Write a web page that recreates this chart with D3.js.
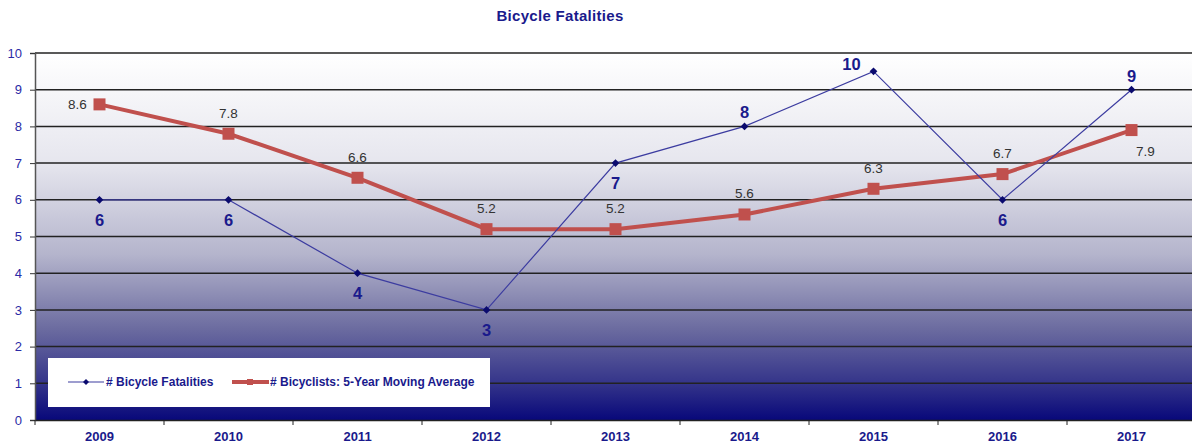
<!DOCTYPE html>
<html>
<head>
<meta charset="utf-8">
<script src="https://cdn.jsdelivr.net/npm/d3@7"></script>
<style>
  body { margin: 0; background: #fff; }
  text { font-family: "Liberation Sans", Arial, sans-serif; }
</style>
</head>
<body>
<div id="chart"></div>
<script>
// Chart data
const years = ["2009", "2010", "2011", "2012", "2013", "2014", "2015", "2016", "2017"];
const fatalities = [6, 6, 4, 3, 7, 8, 9.5, 6, 9];
const movingAvg = [8.6, 7.8, 6.6, 5.2, 5.2, 5.6, 6.3, 6.7, 7.9];
const yTicks = [0, 1, 2, 3, 4, 5, 6, 7, 8, 9, 10];
// where each label sits relative to its point
const fatalLabelPos = ["below", "below", "below", "below", "below", "above", "aboveLeft", "below", "above"];
const avgLabelPos = ["left", "above", "above", "above", "above", "above", "above", "above", "below"];

const svgWidth = 1192;
const svgHeight = 446;
const margin = {top: 53, right: -4, bottom: 26, left: 35};
const width = svgWidth - margin.left - margin.right;
const height = svgHeight - margin.top - margin.bottom;

const navy = "#1a1a8c";
const red = "#c0504d";

const svg = d3.select("#chart")
  .append("svg")
  .attr("width", svgWidth)
  .attr("height", svgHeight);

// Background gradient
const grad = svg.append("defs").append("linearGradient")
  .attr("id", "bg")
  .attr("x1", 0).attr("y1", 0).attr("x2", 0).attr("y2", 1);
[[0, "#ffffff"], [0.3, "#e6e6ee"], [0.55, "#b4b4cc"], [0.75, "#6c6ca0"], [0.9, "#34348a"], [1, "#08087a"]]
  .forEach(s => grad.append("stop").attr("offset", s[0]).attr("stop-color", s[1]));

// Title
svg.append("text")
  .attr("x", 560)
  .attr("y", 21)
  .attr("text-anchor", "middle")
  .attr("font-size", "15px")
  .attr("font-weight", "bold")
  .attr("letter-spacing", "0.3px")
  .attr("fill", navy)
  .text("Bicycle Fatalities");

const chartGroup = svg.append("g")
  .attr("transform", `translate(${margin.left}, ${margin.top})`);

// Scales
const xBand = d3.scaleBand().domain(years).range([0, width]);
const x = d => xBand(d) + xBand.bandwidth() / 2;
const y = d3.scaleLinear().domain([0, 10]).range([height, 0]);

chartGroup.append("rect")
  .attr("width", width)
  .attr("height", height)
  .attr("fill", "url(#bg)");

// Gridlines
chartGroup.append("g")
  .selectAll("line")
  .data(yTicks.slice(1))
  .enter()
  .append("line")
  .attr("x1", 0)
  .attr("x2", width)
  .attr("y1", d => y(d))
  .attr("y2", d => y(d))
  .attr("stroke", "#222")
  .attr("stroke-width", 1.5);

// Axes
const yAxis = chartGroup.append("g")
  .call(d3.axisLeft(y).tickValues(yTicks).tickSize(5).tickPadding(8));
yAxis.select(".domain").attr("stroke", "#555").attr("stroke-width", 1.5);
yAxis.selectAll(".tick line").attr("stroke", "#333");
yAxis.selectAll("text")
  .attr("font-size", "13px")
  .attr("fill", "#2b2ba6");

const xAxis = chartGroup.append("g")
  .attr("transform", `translate(0, ${height})`)
  .call(d3.axisBottom(xBand).tickSize(0).tickPadding(12));
xAxis.select(".domain").attr("stroke", "#222").attr("stroke-width", 1.5);
xAxis.selectAll("text")
  .attr("font-size", "13px")
  .attr("font-weight", "bold")
  .attr("fill", navy);
// tick marks on band edges
xAxis.append("g")
  .selectAll("line")
  .data(years)
  .enter()
  .append("line")
  .attr("x1", d => xBand(d))
  .attr("x2", d => xBand(d))
  .attr("y1", 0)
  .attr("y2", 5)
  .attr("stroke", "#222");

// Moving average line
const avgLine = d3.line().x((d, i) => x(years[i])).y(d => y(d));
chartGroup.append("path")
  .datum(movingAvg)
  .attr("d", avgLine)
  .attr("fill", "none")
  .attr("stroke", red)
  .attr("stroke-width", 4);

// Fatalities line
const fatalLine = d3.line().x((d, i) => x(years[i])).y(d => y(d));
chartGroup.append("path")
  .datum(fatalities)
  .attr("d", fatalLine)
  .attr("fill", "none")
  .attr("stroke", "#3c3ca0")
  .attr("stroke-width", 1.2);

// Markers
chartGroup.selectAll("rect.avg")
  .data(movingAvg)
  .enter()
  .append("rect")
  .attr("class", "avg")
  .attr("x", (d, i) => x(years[i]) - 6)
  .attr("y", d => y(d) - 6)
  .attr("width", 12)
  .attr("height", 12)
  .attr("fill", red);

chartGroup.selectAll("path.fatal")
  .data(fatalities)
  .enter()
  .append("path")
  .attr("class", "fatal")
  .attr("d", d3.symbol().type(d3.symbolSquare).size(30))
  .attr("transform", (d, i) => `translate(${x(years[i])}, ${y(d)}) rotate(45)`)
  .attr("fill", "#0a0a6e");

// Labels
const avgOffset = {left: [-22, 5], above: [0, -16], below: [14, 26]};
chartGroup.selectAll("text.avgLabel")
  .data(movingAvg)
  .enter()
  .append("text")
  .attr("class", "avgLabel")
  .attr("x", (d, i) => x(years[i]) + avgOffset[avgLabelPos[i]][0])
  .attr("y", (d, i) => y(d) + avgOffset[avgLabelPos[i]][1])
  .attr("text-anchor", "middle")
  .attr("font-size", "13.5px")
  .attr("fill", "#333")
  .text(d => d3.format(".1f")(d));

const fatalOffset = {below: [0, 26], above: [0, -8], aboveLeft: [-22, -1]};
chartGroup.selectAll("text.fatalLabel")
  .data(fatalities)
  .enter()
  .append("text")
  .attr("class", "fatalLabel")
  .attr("x", (d, i) => x(years[i]) + fatalOffset[fatalLabelPos[i]][0])
  .attr("y", (d, i) => y(d) + fatalOffset[fatalLabelPos[i]][1])
  .attr("text-anchor", "middle")
  .attr("font-size", "16.5px")
  .attr("font-weight", "bold")
  .attr("fill", navy)
  .text(d => d3.format(".0f")(d));

// Legend
const legend = svg.append("g").attr("transform", "translate(48, 358)");
legend.append("rect")
  .attr("width", 442)
  .attr("height", 49)
  .attr("fill", "#fff");
legend.append("line")
  .attr("x1", 20).attr("x2", 56).attr("y1", 24).attr("y2", 24)
  .attr("stroke", "#3c3ca0").attr("stroke-width", 1.2);
legend.append("path")
  .attr("d", d3.symbol().type(d3.symbolSquare).size(18))
  .attr("transform", "translate(38, 24) rotate(45)")
  .attr("fill", "#0a0a6e");
legend.append("text")
  .attr("x", 58).attr("y", 28)
  .attr("font-size", "12px").attr("font-weight", "bold").attr("fill", navy)
  .text("# Bicycle Fatalities");
legend.append("line")
  .attr("x1", 184).attr("x2", 221).attr("y1", 24).attr("y2", 24)
  .attr("stroke", red).attr("stroke-width", 4);
legend.append("rect")
  .attr("x", 199).attr("y", 21).attr("width", 6).attr("height", 6)
  .attr("fill", red);
legend.append("text")
  .attr("x", 222).attr("y", 28)
  .attr("font-size", "12px").attr("font-weight", "bold").attr("fill", navy)
  .text("# Bicyclists: 5-Year Moving Average");
</script>
</body>
</html>
